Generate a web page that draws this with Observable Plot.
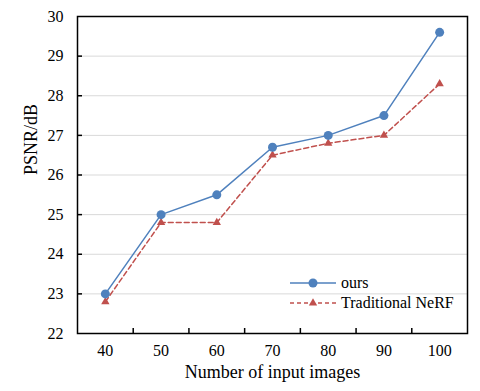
<!DOCTYPE html>
<html><head><meta charset="utf-8">
<script src="https://cdn.jsdelivr.net/npm/d3@7"></script>
<script src="https://cdn.jsdelivr.net/npm/@observablehq/plot@0.6"></script>
<style>body{margin:0;background:white;} svg{display:block;} svg text{font-family:"Liberation Serif","Times New Roman","DejaVu Serif",serif !important;}</style>
</head><body><div id="chart"></div>
<script>
const categories = [40, 50, 60, 70, 80, 90, 100];
const ours = [23.0, 25.0, 25.5, 26.7, 27.0, 27.5, 29.6];
const traditional = [22.8, 24.8, 24.8, 26.5, 26.8, 27.0, 28.3];
const yTicks = [22, 23, 24, 25, 26, 27, 28, 29, 30];
const seriesNames = ["ours", "Traditional NeRF"];
const xTitle = "Number of input images";
const yTitle = "PSNR/dB";

const blue = "#4F81BD", red = "#C0504D";
const data = categories.flatMap((c, i) => [
  {x: c, y: ours[i], s: seriesNames[0]},
  {x: c, y: traditional[i], s: seriesNames[1]}
]);
const d0 = data.filter(d => d.s === seriesNames[0]);
const d1 = data.filter(d => d.s === seriesNames[1]);
const step = categories[1] - categories[0];
const bounds = categories.slice(1).map((c, i) => (c + categories[i]) / 2);

const chart = Plot.plot({
  width: 480, height: 391,
  marginLeft: 77, marginRight: 13, marginTop: 16, marginBottom: 58,
  x: {domain: [categories[0] - step/2, categories[categories.length-1] + step/2]},
  y: {domain: [yTicks[0], yTicks[yTicks.length-1]]},
  style: {fontFamily: "Liberation Serif", fontSize: "16px", color: "black", background: "white"},
  marks: [
    Plot.gridY(yTicks.slice(1, -1), {stroke: "#d9d9d9", strokeOpacity: 1, strokeWidth: 1}),
    Plot.axisY(yTicks, {tickSize: 0, tickPadding: 14, label: null, tickFormat: d => d, fontSize: 16, fontFamily: "Liberation Serif"}),
    Plot.axisY(yTicks.slice(1, -1), {tickSize: -5, text: null, label: null, strokeWidth: 1.5}),
    Plot.axisX(categories, {tickSize: 0, tickPadding: 11, label: null, tickFormat: d => d, fontSize: 16, fontFamily: "Liberation Serif"}),
    Plot.axisX(bounds, {tickSize: -5, text: null, label: null, strokeWidth: 1.5}),
    Plot.frame({stroke: "black", strokeWidth: 1.5}),
    Plot.line(d1, {x: "x", y: "y", stroke: red, strokeWidth: 1.5, strokeDasharray: "5,3"}),
    Plot.dot(d1, {x: "x", y: "y", symbol: "triangle", fill: red, r: 3.1}),
    Plot.line(d0, {x: "x", y: "y", stroke: blue, strokeWidth: 1.5}),
    Plot.dot(d0, {x: "x", y: "y", fill: blue, r: 4.5}),
    Plot.text([yTitle], {frameAnchor: "left", dx: -46, rotate: -90, fontSize: 18, fontFamily: "Liberation Serif"}),
    Plot.text([xTitle], {frameAnchor: "bottom", dy: 44, fontSize: 18, fontFamily: "Liberation Serif"})
  ]
});

// legend
const svg = d3.select(chart);
const lg = svg.append("g").attr("font-size", 16).attr("text-anchor", "start");
const items = [
  {name: seriesNames[0], color: blue, dash: null, sym: "circle"},
  {name: seriesNames[1], color: red, dash: "4,3", sym: "triangle"}
];
items.forEach((it, i) => {
  const y = 283 + i * 20;
  lg.append("line").attr("x1", 290).attr("x2", 336).attr("y1", y).attr("y2", y)
    .attr("stroke", it.color).attr("stroke-width", 1.5).attr("stroke-dasharray", it.dash);
  if (it.sym === "circle") {
    lg.append("circle").attr("cx", 313).attr("cy", y).attr("r", 4.5).attr("fill", it.color);
  } else {
    lg.append("path").attr("d", d3.symbol(d3.symbolTriangle, 30)()).attr("transform", `translate(313,${y})`).attr("fill", it.color);
  }
  lg.append("text").attr("x", 341).attr("y", y).attr("dy", "0.32em").attr("text-anchor", "start").attr("fill", "black").text(it.name);
});

document.getElementById("chart").appendChild(chart);
</script>
</body></html>
